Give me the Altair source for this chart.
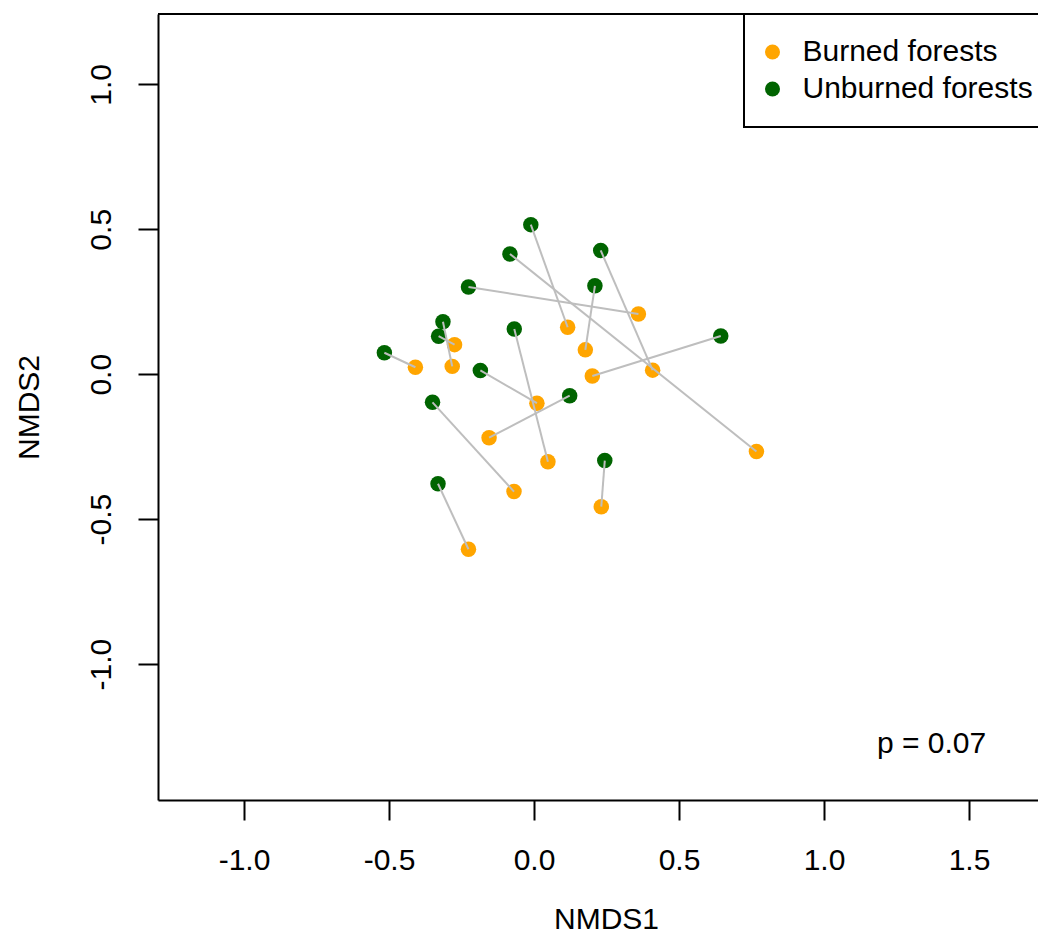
import altair as alt
import pandas as pd

# Paired sites: unburned[i] is connected to burned[i]
unburned_x = [-0.011, -0.083, 0.230, -0.226, 0.210, -0.314, -0.329, -0.068, -0.516, 0.644, -0.185, 0.123, -0.350, 0.244, -0.331]
unburned_y = [0.516, 0.415, 0.427, 0.301, 0.305, 0.181, 0.131, 0.156, 0.074, 0.132, 0.013, -0.074, -0.097, -0.298, -0.378]
burned_x = [0.116, 0.767, 0.409, 0.360, 0.177, -0.282, -0.274, 0.048, -0.409, 0.201, 0.010, -0.155, -0.069, 0.232, -0.226]
burned_y = [0.162, -0.267, 0.014, 0.208, 0.084, 0.027, 0.102, -0.302, 0.024, -0.006, -0.100, -0.219, -0.405, -0.457, -0.604]

groups = ["Burned forests", "Unburned forests"]
colors = ["#FFA500", "#006400"]
x_ticks = [-1.0, -0.5, 0.0, 0.5, 1.0, 1.5]
y_ticks = [-1.0, -0.5, 0.0, 0.5, 1.0]
x_range = [-1.2966, 1.7379]
y_range = [-1.469, 1.2427]
ann_x = [1.371]
ann_y = [-1.306]
ann_text = ["p = 0.07"]

FONT = "Liberation Sans"

pts = pd.DataFrame({
    "NMDS1": burned_x + unburned_x,
    "NMDS2": burned_y + unburned_y,
    "group": [groups[0]] * len(burned_x) + [groups[1]] * len(unburned_x),
})
seg = pd.DataFrame({"NMDS1": unburned_x, "NMDS2": unburned_y, "x2": burned_x, "y2": burned_y})
ann = pd.DataFrame({"NMDS1": ann_x, "NMDS2": ann_y, "label": ann_text})
top = pd.DataFrame({"NMDS1": [x_range[0]], "x2": [x_range[1]], "NMDS2": [y_range[1]]})

xscale = alt.Scale(domain=x_range, nice=False, zero=False)
yscale = alt.Scale(domain=y_range, nice=False, zero=False)

lab_expr = "datum.value < 0 ? '-' + format(-datum.value, '.1f') : format(datum.value, '.1f')"

common_axis = dict(
    grid=False, domainColor="black", domainWidth=2, tickColor="black", tickWidth=2,
    tickSize=20, labelFontSize=30, labelFont=FONT, labelColor="black",
    titleFontSize=30, titleFont=FONT, titleColor="black", titleFontWeight="normal",
    labelFlush=False, labelOverlap=False, labelExpr=lab_expr,
)

x_axis = alt.Axis(values=x_ticks, orient="bottom", labelAngle=0, labelAlign="center",
                  labelBaseline="top", labelPadding=25, title="NMDS1",
                  titleX=448, titleY=104, titleAlign="center", titleBaseline="top",
                  titleAngle=0, **common_axis)
y_axis = alt.Axis(values=y_ticks, orient="left", labelAngle=270, labelAlign="center",
                  labelBaseline="bottom", labelPadding=22, title="NMDS2",
                  titleX=-114, titleY=393, titleAngle=270, titleAlign="center",
                  titleBaseline="bottom", **common_axis)

X = alt.X("NMDS1:Q", scale=xscale, axis=x_axis)
Y = alt.Y("NMDS2:Q", scale=yscale, axis=y_axis)

points = alt.Chart(pts).mark_circle(size=240, opacity=1).encode(
    x=X,
    y=Y,
    color=alt.Color(
        "group:N",
        scale=alt.Scale(domain=groups, range=colors),
        legend=alt.Legend(
            orient="none", legendX=586, legendY=0, title=None, direction="vertical",
            strokeColor="black", padding=23, labelFontSize=30, labelFont=FONT,
            labelColor="black", symbolType="circle", symbolSize=225,
            symbolStrokeWidth=0, symbolOpacity=1, labelOffset=15, symbolOffset=-9.5,
            rowPadding=7, labelLimit=500,
        ),
    ),
)

segments = alt.Chart(seg).mark_rule(color="#BEBEBE", strokeWidth=2).encode(
    x=X, y=Y, x2="x2:Q", y2="y2:Q",
)

topline = alt.Chart(top).mark_rule(color="black", strokeWidth=2).encode(
    x=X, x2="x2:Q", y=Y,
)

text = alt.Chart(ann).mark_text(fontSize=30, font=FONT, color="black", align="center",
                                baseline="alphabetic").encode(
    x=X, y=Y, text="label:N",
)

chart = alt.layer(points, segments, text, topline).properties(
    width=880, height=786,
    padding={"left": 150, "top": 6, "right": 0, "bottom": 134},
    autosize=alt.AutoSizeParams(type="none"),
).configure_view(stroke=None).configure_legend(strokeWidth=2)

chart.save("out.html", embed_options={"renderer": "svg", "actions": False})
